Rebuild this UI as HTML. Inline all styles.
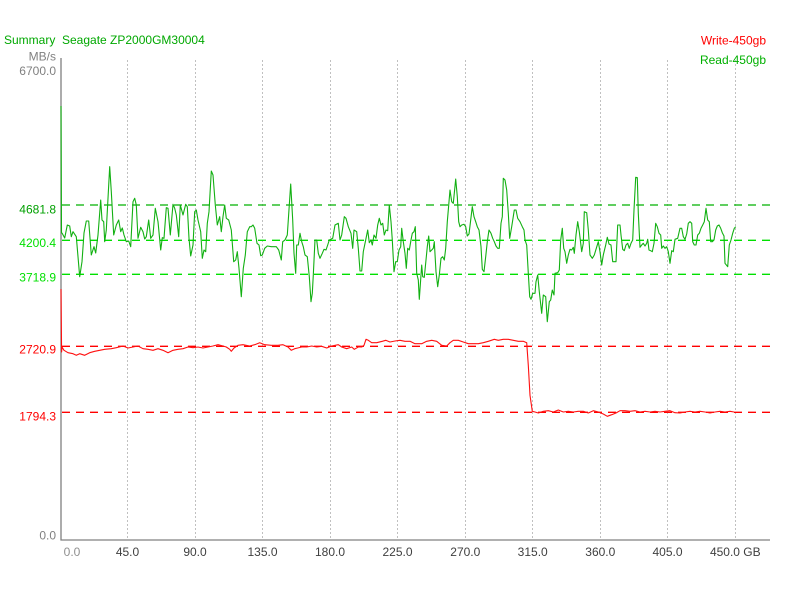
<!DOCTYPE html>
<html>
<head>
<meta charset="utf-8">
<style>
html,body{margin:0;padding:0;background:#fff;}
svg{display:block;}
text{font-family:"Liberation Sans",Arial,sans-serif;font-size:12px;}
</style>
</head>
<body>
<svg width="800" height="600" viewBox="0 0 800 600" xmlns="http://www.w3.org/2000/svg">
<rect width="800" height="600" fill="#fff"/>
<!-- vertical dotted grid -->
<g stroke="#c0c0c0" stroke-width="1" stroke-dasharray="2,2">
<line x1="127.5" y1="60" x2="127.5" y2="540"/>
<line x1="195.5" y1="60" x2="195.5" y2="540"/>
<line x1="262.5" y1="60" x2="262.5" y2="540"/>
<line x1="330.5" y1="60" x2="330.5" y2="540"/>
<line x1="397.5" y1="60" x2="397.5" y2="540"/>
<line x1="465.5" y1="60" x2="465.5" y2="540"/>
<line x1="532.5" y1="60" x2="532.5" y2="540"/>
<line x1="600.5" y1="60" x2="600.5" y2="540"/>
<line x1="667.5" y1="60" x2="667.5" y2="540"/>
<line x1="735.5" y1="60" x2="735.5" y2="540"/>
</g>
<!-- horizontal dashed reference lines -->
<g stroke-width="1.3" stroke-dasharray="8,6" fill="none">
<line x1="62" y1="205" x2="770" y2="205" stroke="#00b000"/>
<line x1="62" y1="240.3" x2="770" y2="240.3" stroke="#00e000"/>
<line x1="62" y1="274.3" x2="770" y2="274.3" stroke="#00e000"/>
<line x1="62" y1="346.3" x2="770" y2="346.3" stroke="#ff0000"/>
<line x1="62" y1="412.3" x2="770" y2="412.3" stroke="#ff0000"/>
</g>
<!-- axes -->
<line x1="61" y1="58" x2="61" y2="540.5" stroke="#808080" stroke-width="1.3"/>
<line x1="60.5" y1="540" x2="770" y2="540" stroke="#808080" stroke-width="1.3"/>
<!-- green read series -->
<polyline fill="none" stroke="#12b012" stroke-width="1.1" stroke-linejoin="round" points="61,106 61.5,233 62,233 64.7,238 67.3,225 69.7,226 71.3,236.7 73,231.7 76.3,236.7 79.7,276.7 82,261.7 84,233 86.3,221 88.7,221 91.3,255 94,246.7 95.7,253 98,235 100.7,200 102,220 103.7,221.7 104.7,241.7 106.3,230 109.7,166.7 111.3,191.7 113.7,235 116.3,225 118.7,220 120.7,231.7 122.3,228 124,235 126.3,241.7 128.7,241 130.7,246.7 133,201.7 134.7,198.3 136.3,205 138,238.3 140.7,227.3 143,231.7 144.7,239 146.3,236.7 148.7,220 150.7,238.3 153,235 155.3,208.3 158,221.7 160.7,250 162.3,237.7 164,238.3 166.3,207.7 168,208.3 170.3,235 173,204.3 174.7,208.3 176.3,215 178.7,236.7 180.3,205 183,215 185.7,204.3 187.3,206.7 189,238.3 190.7,256 193,245 194.7,211.7 196.3,210 198,220 200.7,231.7 202.3,258.3 204,250 205.7,251.7 207.3,223.3 209,211.7 211.3,171 213,175 215.3,205 217.3,225 219.7,216.7 221.3,231.7 223,216.7 224.7,205 226.3,218.3 228.7,220 231.3,230 233.7,261.7 235.7,260 237.3,251.7 239,268.3 241.3,296.7 243.3,268.3 245.3,255 247.3,231.7 249.7,226.7 251.3,226.7 253,225 254.7,228.3 257,243.3 259,245 260.7,255.7 262.3,255 264.7,248.3 267.3,246 271.3,246.7 274,246.7 276.3,246.7 278.7,250 281.3,260 282.7,241.7 285,240 287.3,235 290.7,184 292.7,220 294,253.3 295.7,273.3 296.7,245 298.3,245 300,233.3 301.7,241.7 303.3,246.7 305,255 307.3,256.7 309.3,276.7 311,301.7 312.3,293.3 313.3,275 315,240 316.7,240 318.3,253.3 320,258.3 322.3,253.3 324,249.3 326,250 327.7,245 329.3,240 332.7,238.3 335,225 338.3,223.3 340,240 341.7,235 344.3,216.7 346,218.3 348.3,226.7 351,233.3 352.7,248.3 354,230 356.7,231.7 358.3,248.3 360,271 361.7,271 363.3,251.7 365.7,240 367.7,230 369.3,242.7 371,240 372.3,245 374,235 376,238.3 377.7,225 379.3,218.3 381,225 382.7,223.3 384.3,235 386,230 387.7,230.7 389.3,205 391,221.7 392.3,240 394,271.7 395.7,261.7 397.3,261.7 399,250 400.7,246.7 401.7,228.3 403.3,241.7 405,253.3 406.3,268.3 407.7,248.3 409.3,250 411,240 412.3,233.3 414,231.7 415.3,226.7 416.7,273.3 418.3,280 419.3,299.3 421.7,265 422.7,276.7 424.3,277.3 426,260 427.3,246.7 428.7,236 430,251.7 431.7,250 433.3,248.3 434.3,241.7 436,271.7 437.7,286.7 439.3,275 441,258.3 442.7,256.7 444.3,260 445.7,248.3 447.3,221.7 449,201.7 450,190 451.7,201.7 453.3,203.3 455.7,179 457.3,196.7 458.7,221.7 460,226.7 461.7,225 464,224.3 465.7,226.7 467.3,236 469,234 470.7,220 472.3,206.7 474,216.7 475.7,221.7 477.3,226.7 479,230 481,246.7 482.3,269.3 484,271.7 485.7,256.7 487.3,241.7 489,230 491,233.3 492.7,238.3 494.3,241.7 496,246 497.7,248.3 499.3,248.3 501,223.3 502.3,216.7 503.3,178.3 505,180 506.7,190 508.3,213.3 509.7,238.3 511.7,226.7 514.3,210 516,210 517.7,218.3 520,221.7 522.3,226.7 524,230 525,240 526.7,245 528.3,273.3 529.7,296.7 531,299.3 532.7,293.3 535,293.3 536,281.7 537.7,275 539.3,291.7 541.7,313.3 543.3,295 545.7,296.7 547.3,321.7 549.3,301.7 550.7,300 552.3,290 554,295 555,273.3 557.7,272.7 559.3,270 560.7,240 562.3,228.3 563.7,248.3 565,251.7 566.7,263.3 568.3,255 570,249.3 571.7,250 573.3,247.3 574.3,253.3 576,235 577.7,221.7 579.3,231.7 581.7,251.7 583.3,243.3 584.3,211.7 586.7,212.7 588.3,230 590,255 592.3,258.3 594.3,255 596,249.3 598.3,241.7 600,251.7 601.7,265 603.3,255 605.7,245 607.3,237.3 609,244 611,245 612.7,261.7 616,261.7 617.7,225 620,225 621,235 622.7,249.3 624.3,250.7 626,245 627.7,243.3 629.3,248.3 631,243.3 632.7,240 634,210 635.7,177.3 637.3,177.7 638.3,213.3 640,247.3 641.7,245 643.3,243.3 645,246 646.7,243.3 647.7,239.3 649,250 650.7,250.7 652.3,251.7 654,243.3 655.7,223.3 657.3,226.7 659,233.3 660.7,235 661.7,248.3 663.3,246 665,248.3 666.7,246.7 668.3,251.7 670,263.3 671.7,250.7 673.3,251.7 675,239.3 677.7,238.3 680,228.3 681.7,228.3 683.3,236.7 685,239.3 686.7,234 688.3,223.3 690,221.7 691.7,223.3 692.7,241.7 694.3,245 696,245 697.7,235 699.3,233.3 701,228.3 702.7,225 704.3,221.7 706,208.3 707.7,220 709.3,221.7 710.7,241.7 712.3,241.7 714,240 715.7,230 717.3,226 719,225 720.7,228.3 722.3,232.7 724,236 725,263.3 727.7,266.7 729.3,245 731,240 732.7,233.3 734.3,228.3 735.7,226.7"/>
<!-- red write series -->
<polyline fill="none" stroke="#ff1010" stroke-width="1.1" stroke-linejoin="round" points="61,289 61.6,352 62,347 64,350.3 68,352.7 73,353.7 76.3,355.3 79.7,353.7 84.7,355.3 89.7,352.7 94.7,351.3 99.7,350.3 104.7,349.3 111.3,348.7 116.3,347.7 123,346 128,348 133,347 138,346 143,348.7 148,349.3 153,350.3 158,348.7 163,350.3 168,352.7 173,350.3 178,349.3 183,348.7 188,347 193,347.7 198,347 203,348 208,347 213,346 218,344.7 223,346 226.3,347 229.7,349.3 231.3,351.3 234,348 238,345.3 243,344.7 249.7,346 254.7,344.7 259.7,342.7 264.7,344.7 271.3,345.3 278,345.3 283,344.7 288,347 291.3,350.3 294.7,348.7 297.7,348 301.7,347 306.7,347 311.7,346 316.7,347 321.7,346.3 326.7,348 331.7,346 338.3,344.7 341.7,347 346.7,348.7 351.7,347 354.3,349.3 358.3,347 361.7,347 364,345.3 366,339.3 368.3,340.3 371.7,342.7 376.7,342.7 382.3,341.3 385.7,340.3 390,342 395,341 400,340.3 405,341.3 410,341.3 415,343.7 421.7,343.7 426.7,341.3 431.7,340.3 436.7,341.3 441.7,345.3 446.7,346 450,342.7 453.3,340.3 458.3,340.3 463.3,342 468.3,343.7 473.3,343.7 478.3,343.7 483.3,342.7 488.3,341.3 494.3,339.3 498.3,340.3 503.3,339.3 508.3,339.3 513.3,340.3 518.3,341.3 523.3,341.3 526.7,342.7 528.3,365.3 530,395.3 532.3,411.3 535,412 538.3,413 543.3,411.3 548.3,410.7 553.3,412 558.3,410 563.3,412 568.3,411.3 573.3,412 578.3,411.3 583.3,411.3 588.3,413 593.3,410.7 598.3,412 603.3,414 607.3,416.3 611.7,414.7 616,413 620,410.7 625,410.7 630,411.3 635,410.7 640,412 645,411.3 650,412 655,411.3 660,412 665,411.3 670,410.7 675,412.7 680,413 685,412 690,411.3 695,412 700,411.3 705,412 710,413 715,412 720,411.3 725,412 730,411.3 734,412"/>
<!-- title and legend -->
<text x="4" y="44" fill="#00a800" xml:space="preserve">Summary  Seagate ZP2000GM30004</text>
<text x="766" y="44.5" fill="#ff0000" text-anchor="end">Write-450gb</text>
<text x="766" y="64" fill="#00b000" text-anchor="end">Read-450gb</text>
<!-- y labels -->
<g text-anchor="end">
<text x="56" y="60.5" fill="#808080">MB/s</text>
<text x="56" y="75" fill="#808080">6700.0</text>
<text x="56" y="213.5" fill="#00a000">4681.8</text>
<text x="56" y="247" fill="#00e000">4200.4</text>
<text x="56" y="281.7" fill="#00e000">3718.9</text>
<text x="56" y="353.7" fill="#ff0000">2720.9</text>
<text x="56" y="420.3" fill="#ff0000">1794.3</text>
<text x="56" y="539.5" fill="#808080">0.0</text>
</g>
<!-- x labels -->
<g text-anchor="middle" fill="#404040">
<text x="72" y="556" fill="#909090">0.0</text>
<text x="127.5" y="556">45.0</text>
<text x="195" y="556">90.0</text>
<text x="262.5" y="556">135.0</text>
<text x="330" y="556">180.0</text>
<text x="397.5" y="556">225.0</text>
<text x="465.3" y="556">270.0</text>
<text x="532.7" y="556">315.0</text>
<text x="600.3" y="556">360.0</text>
<text x="667.5" y="556">405.0</text>
<text x="735.3" y="556">450.0 GB</text>
</g>
</svg>
</body>
</html>
